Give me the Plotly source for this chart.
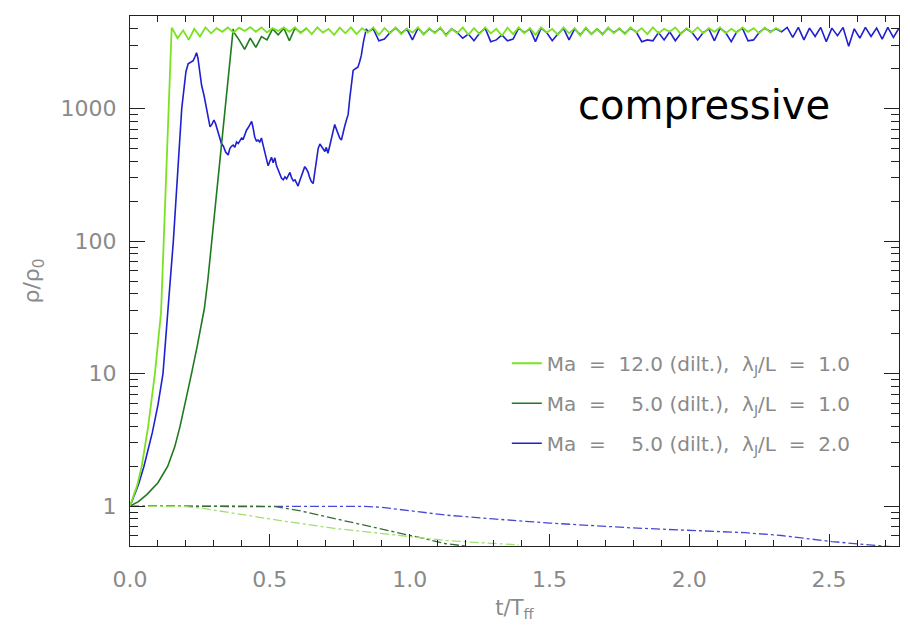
import numpy as np
import plotly.graph_objects as go

# ---------------- data ----------------
# Ma = 12.0, lambda_J/L = 1.0  (light green) : collapse phase
lg_rise_t = [0, 0.013, 0.026, 0.042, 0.065, 0.089, 0.102, 0.111, 0.1206, 0.1385, 0.149]
lg_rise_v = [1, 1.18, 1.44, 2.0, 4.0, 10, 18, 29, 100, 1000, 4070]
# plateau, sampled every 0.02 from t = 0.15
lg_plat_t0 = 0.15
lg_plat_v = [4050, 3400, 3900, 3300, 4000, 3500, 4100, 3700, 4050, 3800,
             4100, 3750, 4080, 3850, 4120, 3800, 4100, 3750, 4050, 3850,
             4100, 3800, 4120, 3700, 4050, 3650, 4100, 3750, 4000, 3600,
             4080, 3700, 4100, 3650, 4050, 3750, 4100, 3600, 4050, 3700,
             4100, 3650, 4000, 3750, 4100, 3600, 4050, 3700, 4100, 3550,
             4000, 3700, 4100, 3600, 4050, 3650, 4100, 3700, 4000, 3550,
             4080, 3650, 4100, 3700, 4050, 3600, 4100, 3750, 4000, 3600,
             4100, 3700, 4050, 3550, 4100, 3650, 4000, 3600, 4100, 3700,
             4050, 3650, 4100, 3750, 4050, 3650, 4100, 3700, 4000, 3800,
             4100, 3650, 4050, 3750, 4100, 3700, 4050, 3800, 4100, 3700,
             4000, 3750, 4100, 3800, 4050, 3700, 4100, 3750, 4050, 3850]

# Ma = 5.0, lambda_J/L = 1.0  (dark green)
dg_rise_t = [0, 0.03, 0.06, 0.10, 0.135, 0.16, 0.179, 0.20, 0.22, 0.24, 0.255,
             0.266, 0.278, 0.292, 0.31, 0.325, 0.34, 0.355, 0.369]
dg_rise_v = [1, 1.08, 1.22, 1.5, 2.0, 2.8, 4.0, 6.3, 10, 16, 23,
             31, 50, 100, 240, 500, 1000, 2000, 4000]
dg_plat_t0 = 0.37
dg_plat_v = [3800, 3300, 2800, 3400, 2900, 3500, 3300, 4000, 3600, 4050,
             3250, 4050, 3750, 4000]

# Ma = 5.0, lambda_J/L = 2.0  (blue)
bl_rise_t = [0, 0.015, 0.03, 0.05, 0.08, 0.10, 0.118, 0.135, 0.155, 0.185,
             0.194, 0.200, 0.208, 0.216, 0.226, 0.232, 0.238, 0.243, 0.248, 0.256,
             0.265, 0.272, 0.279, 0.286, 0.293, 0.300, 0.306, 0.312, 0.318, 0.327,
             0.334, 0.342, 0.351, 0.357, 0.363, 0.369, 0.375, 0.381, 0.387, 0.393,
             0.399, 0.405, 0.411, 0.417, 0.423, 0.429, 0.435, 0.440, 0.446, 0.452,
             0.458, 0.464, 0.470, 0.476, 0.482, 0.488, 0.494, 0.500, 0.506, 0.512,
             0.518, 0.524, 0.530, 0.536, 0.542, 0.548, 0.554, 0.560, 0.566, 0.572,
             0.578, 0.584, 0.590, 0.596, 0.601, 0.607, 0.613, 0.619, 0.625, 0.631,
             0.637, 0.643, 0.649, 0.655, 0.661, 0.667, 0.673, 0.679, 0.685, 0.691,
             0.697, 0.702, 0.708, 0.714, 0.720, 0.726, 0.732, 0.738, 0.744, 0.750,
             0.756, 0.762, 0.768, 0.774, 0.780, 0.786, 0.792, 0.798, 0.806, 0.815,
             0.821, 0.827, 0.835, 0.845]
bl_rise_v = [1, 1.2, 1.45, 2.0, 3.6, 5.8, 10, 29, 100, 1000,
             1590, 1900, 2180, 2230, 2300, 2450, 2640, 2400, 2000, 1500,
             1250, 1050, 900, 730, 760, 820, 770, 690, 620, 545,
             520, 470, 446, 500, 520, 530, 510, 560, 545, 580,
             600, 590, 640, 690, 720, 760, 800, 720, 610, 570,
             580, 560, 600, 530, 470, 420, 370, 400, 430, 390,
             425, 370, 340, 320, 298, 290, 305, 295, 315, 330,
             300, 285, 290, 270, 260, 285, 310, 340, 365, 350,
             330, 300, 280, 272, 330, 420, 500, 540, 520, 500,
             475, 510, 460, 520, 600, 680, 760, 700, 650, 600,
             580, 640, 740, 820, 900, 1200, 1600, 1940, 2000, 2050,
             2250, 2510, 3200, 4000]
bl_plat_t0 = 0.85
bl_plat_v = [3800, 4000, 3250, 3350, 3750, 4050, 3700, 4000, 3300, 4050,
             3650, 4000, 3750, 4050, 3600, 4000, 3750, 3400, 3650, 3250,
             3700, 4050, 3200, 3300, 3600, 3250, 3350, 4050, 3750, 4000,
             3200, 4050, 3750, 3250, 3650, 4050, 3300, 4000, 3600, 4050,
             3650, 4000, 3650, 4050, 3750, 4000, 3700, 4050, 3800, 3200,
             3300, 3250, 3750, 3300, 3800, 3250, 3700, 4000, 3750, 3300,
             3750, 4000, 3250, 4050, 3750, 3200, 3800, 4050, 3250, 3300,
             3750, 4050, 3800, 4000, 3800, 4100, 3450, 4100, 3300, 4050,
             3500, 4100, 3200, 4050, 3550, 4100, 2950, 4000, 3400, 4100,
             3500, 4050, 3350, 4100, 3450, 4050]

# dash-dot curves (second quantity, lower part of the plot)
lg_dd_t = [0, 0.1, 0.2, 0.25, 0.37, 0.55, 0.73, 0.96, 1.13, 1.25, 1.39]
lg_dd_v = [1, 1.0, 0.99, 0.97, 0.88, 0.77, 0.68, 0.60, 0.55, 0.53, 0.51]
dg_dd_t = [0, 0.2, 0.4, 0.52, 0.6, 0.73, 0.85, 0.96, 1.05, 1.13, 1.2]
dg_dd_v = [1, 1.0, 1.0, 0.99, 0.93, 0.81, 0.71, 0.63, 0.57, 0.52, 0.50]
bl_dd_t = [0, 0.3, 0.6, 0.84, 0.9, 0.964, 1.13, 1.3, 1.5, 1.8, 2.04, 2.2, 2.33, 2.51, 2.69, 2.75]
bl_dd_v = [1, 1.0, 1.0, 0.995, 0.98, 0.94, 0.855, 0.80, 0.745, 0.684, 0.653, 0.63, 0.60, 0.54, 0.50, 0.49]

x_ticks = [0.0, 0.5, 1.0, 1.5, 2.0, 2.5]
y_ticks = [1, 10, 100, 1000]
y_tick_labels = ["1", "10", "100", "1000"]

NB = "\u00a0"
EQ = NB + NB + "=" + NB + NB
labels = ["Ma" + EQ + "12.0 (dilt.)," + NB + NB + "λ<sub>J</sub>/L" + EQ + "1.0",
          "Ma" + EQ + "\u20075.0 (dilt.)," + NB + NB + "λ<sub>J</sub>/L" + EQ + "1.0",
          "Ma" + EQ + "\u20075.0 (dilt.)," + NB + NB + "λ<sub>J</sub>/L" + EQ + "2.0"]

LG, DG, BL = "#7ae222", "#1f7a1f", "#2020d0"

def series(rt, rv, t0, pv):
    pt = list(np.round(t0 + 0.02 * np.arange(len(pv)), 3))
    return list(rt) + pt, list(rv) + list(pv)

lg_t, lg_v = series(lg_rise_t, lg_rise_v, lg_plat_t0, lg_plat_v)
dg_t, dg_v = series(dg_rise_t, dg_rise_v, dg_plat_t0, dg_plat_v)
bl_t, bl_v = series(bl_rise_t, bl_rise_v, bl_plat_t0, bl_plat_v)

fig = go.Figure()
# dash-dot curves
fig.add_trace(go.Scatter(x=bl_dd_t, y=bl_dd_v, mode="lines", showlegend=False,
                         line=dict(color="#4848d8", width=1.3, dash="dashdot")))
fig.add_trace(go.Scatter(x=dg_dd_t, y=dg_dd_v, mode="lines", showlegend=False,
                         line=dict(color="#3a6a3a", width=1.3, dash="dashdot")))
fig.add_trace(go.Scatter(x=lg_dd_t, y=lg_dd_v, mode="lines", showlegend=False,
                         line=dict(color="#a0e070", width=1.3, dash="dashdot")))
# solid curves (blue underneath, light green on top)
fig.add_trace(go.Scatter(x=bl_t, y=bl_v, mode="lines", name=labels[2], legendrank=3,
                         legendgroup="c", line=dict(color=BL, width=1.6)))
fig.add_trace(go.Scatter(x=dg_t, y=dg_v, mode="lines", name=labels[1], legendrank=2,
                         legendgroup="b", line=dict(color=DG, width=1.6)))
fig.add_trace(go.Scatter(x=lg_t, y=lg_v, mode="lines", name=labels[0], legendrank=1,
                         legendgroup="a", line=dict(color=LG, width=1.8)))

minor_y = [0.5, 0.6, 0.7, 0.8, 0.9] + [m * 10 ** k for k in range(0, 4) for m in range(2, 10)
                                      if m * 10 ** k <= 5000]

axis_common = dict(showgrid=False, zeroline=False, showline=True, linecolor="#222",
                   linewidth=1, mirror="ticks", ticks="inside", tickcolor="#222",
                   tickfont=dict(family="DejaVu Sans", size=22, color="#8a8a8a"))

fig.update_xaxes(range=[0, 2.75], tickvals=x_ticks, tickformat=".1f", ticklen=12,
                 ticklabelstandoff=14,
                 minor=dict(dtick=0.1, ticks="inside", ticklen=6, tickcolor="#222"),
                 title=dict(text="t/T<sub>ff</sub>", standoff=8,
                            font=dict(family="DejaVu Sans", size=21, color="#8a8a8a")),
                 **axis_common)
fig.update_yaxes(type="log", range=[np.log10(0.5), np.log10(5000)],
                 tickvals=y_ticks, ticktext=y_tick_labels, ticklen=15,
                 ticklabelstandoff=8,
                 minor=dict(tickvals=minor_y, ticks="inside", ticklen=8, tickcolor="#222"),
                 title=dict(text="ρ/ρ<sub>0</sub>", standoff=14,
                            font=dict(family="DejaVu Sans", size=22, color="#8a8a8a")),
                 **axis_common)

fig.add_annotation(text="compressive", xref="paper", yref="paper", x=0.747, y=0.833,
                   xanchor="center", yanchor="middle", showarrow=False,
                   font=dict(family="DejaVu Sans", size=40, color="black"))

fig.update_layout(
    width=910, height=625,
    margin=dict(l=130, r=10, t=16, b=77),
    plot_bgcolor="white", paper_bgcolor="white",
    showlegend=True,
    legend=dict(x=0.490, y=0.3816, xanchor="left", yanchor="top",
                bgcolor="rgba(0,0,0,0)", traceorder="grouped", tracegroupgap=11,
                font=dict(family="DejaVu Sans", size=20, color="#8a8a8a")),
)

fig.write_html("out.html")
